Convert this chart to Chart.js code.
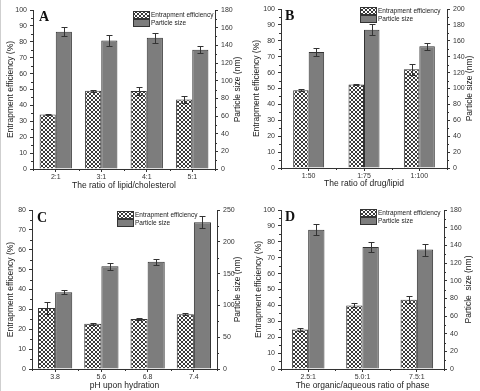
<!DOCTYPE html>
<html>
<head>
<meta charset="utf-8">
<title>Entrapment efficiency / particle size</title>
<style>
  html, body { margin: 0; padding: 0; background: #fff; }
  #wrap { position: relative; width: 480px; height: 391px; overflow: hidden; }
  #wrap canvas { position: absolute; left: 0; top: 0; }
  #edge { position: absolute; left: 0; top: 0; width: 1px; height: 391px; background: #cfcfcf; }
</style>
<script src="https://cdn.jsdelivr.net/npm/chart.js@4.4.0/dist/chart.umd.min.js"></script>
</head>
<body>
<div id="wrap">
  <div id="edge"></div>
  <canvas id="chartA" width="480" height="391"></canvas>
  <canvas id="chartB" width="480" height="391"></canvas>
  <canvas id="chartC" width="480" height="391"></canvas>
  <canvas id="chartD" width="480" height="391"></canvas>
</div>
<script>
// ---- data ----
const seriesNames = ['Entrapment efficiency', 'Particle size'];

// A : lipid/cholesterol
const labelsA = ['2:1', '3:1', '4:1', '5:1'];
const effA = [34.3, 49.2, 49.0, 43.7];
const effErrA = [0.6, 0.8, 2.3, 1.9];
const sizeA = [155.4, 145.6, 148.6, 135.0];
const sizeErrA = [5.0, 6.5, 5.6, 4.1];
const effAxisA = [0, 100, 10];   // min, max, step
const sizeAxisA = [0, 180, 20];

// B : drug/lipid
const labelsB = ['1:50', '1:75', '1:100'];
const effB = [48.9, 52.5, 62.1];
const effErrB = [0.5, 0.3, 3.3];
const sizeB = [146, 174, 153];
const sizeErrB = [5.4, 6.8, 4.6];
const effAxisB = [0, 100, 10];
const sizeAxisB = [0, 200, 20];

// C : pH upon hydration
const labelsC = ['3.8', '5.6', '6.8', '7.4'];
const effC = [30.7, 22.8, 25.2, 27.5];
const effErrC = [2.9, 0.5, 0.5, 0.5];
const sizeC = [120.6, 161.5, 168.8, 230.7];
const sizeErrC = [3.1, 5.7, 4.7, 9.5];
const effAxisC = [0, 80, 10];
const sizeAxisC = [0, 250, 50];

// D : organic/aqueous ratio
const labelsD = ['2.5:1', '5.0:1', '7.5:1'];
const effD = [24.9, 40.0, 43.6];
const effErrD = [1.1, 1.3, 2.1];
const sizeD = [157.7, 138.1, 135.2];
const sizeErrD = [6.5, 5.7, 6.8];
const effAxisD = [0, 100, 10];
const sizeAxisD = [0, 180, 20];

Chart.defaults.font.family = "'Liberation Sans', Arial, sans-serif";
Chart.defaults.color = '#333';

const TITLE_SIZE = 8.5;
const LH = TITLE_SIZE * 1.2;
const INK = '#333';

// checker hatch for the efficiency bars
function makeHatch(ctx) {
  const c = document.createElement('canvas');
  c.width = 4; c.height = 4;
  const g = c.getContext('2d');
  g.fillStyle = '#fff';
  g.fillRect(0, 0, 4, 4);
  g.fillStyle = '#3a3a3a';
  [[0,0],[1,1],[2,2],[3,3],[0,3],[1,2],[2,1],[3,0]].forEach(p => g.fillRect(p[0], p[1], 1, 1));
  return ctx.createPattern(c, 'repeat');
}

// error bars, minor ticks, legend, panel letter, right-hand title
const decoPlugin = {
  id: 'deco',
  afterDatasetsDraw(chart) {
    const ctx = chart.ctx;
    ctx.save();
    ctx.strokeStyle = INK;
    ctx.lineWidth = 1;
    chart.data.datasets.forEach((ds, i) => {
      const meta = chart.getDatasetMeta(i);
      const sc = chart.scales[ds.yAxisID];
      meta.data.forEach((bar, j) => {
        const v = ds.data[j], e = ds.errors[j];
        const y1 = Math.round(sc.getPixelForValue(v + e)) + 0.5;
        const y2 = Math.round(sc.getPixelForValue(v - e)) + 0.5;
        const x = Math.round(bar.x) + 0.5;
        ctx.beginPath();
        ctx.moveTo(x, y1); ctx.lineTo(x, y2);
        ctx.moveTo(x - 3, y1); ctx.lineTo(x + 3, y1);
        ctx.moveTo(x - 3, y2); ctx.lineTo(x + 3, y2);
        ctx.stroke();
      });
    });
    ctx.restore();
  },
  afterDraw(chart, args, o) {
    const ctx = chart.ctx;
    const area = chart.chartArea;
    const ys = chart.scales.y, y1s = chart.scales.y1;
    ctx.save();
    ctx.strokeStyle = INK;
    ctx.lineWidth = 1;
    ctx.beginPath();
    // minor ticks on both value axes
    [[ys, -1], [y1s, 1]].forEach(([sc, dir]) => {
      const x0 = dir < 0 ? area.left : area.right;
      for (let k = 0; k < sc.ticks.length - 1; k++) {
        const mid = (sc.ticks[k].value + sc.ticks[k + 1].value) / 2;
        const py = Math.round(sc.getPixelForValue(mid)) + 0.5;
        ctx.moveTo(x0, py); ctx.lineTo(x0 + dir * 2, py);
      }
    });
    // minor ticks between categories
    const n = chart.data.labels.length;
    for (let k = 0; k <= n; k++) {
      const px = Math.round(area.left + (area.right - area.left) * k / n) + 0.5;
      ctx.moveTo(px, area.bottom); ctx.lineTo(px, area.bottom + 2);
    }
    ctx.stroke();

    // legend
    const lg = o.legend;
    const fills = [o.hatch, '#7d7d7d'];
    ctx.font = "6.5px 'Liberation Sans', Arial, sans-serif";
    ctx.textBaseline = 'middle';
    seriesNames.forEach((name, k) => {
      const by = lg.y + k * 8;
      ctx.fillStyle = fills[k];
      ctx.fillRect(lg.x, by, 16, 7);
      ctx.strokeRect(lg.x + 0.5, by + 0.5, 16, 7);
      ctx.fillStyle = '#222';
      ctx.fillText(name, lg.x + 18, by + 4);
    });

    // panel letter
    ctx.fillStyle = '#111';
    ctx.font = "bold 14px 'Liberation Serif', 'Times New Roman', serif";
    ctx.textBaseline = 'alphabetic';
    ctx.fillText(o.letter, o.letterX, o.letterY);

    // right axis title (reads bottom to top)
    ctx.save();
    ctx.translate(o.y1TitleX, (area.top + area.bottom) / 2);
    ctx.rotate(-Math.PI / 2);
    ctx.font = TITLE_SIZE + "px 'Liberation Sans', Arial, sans-serif";
    ctx.textAlign = 'center';
    ctx.textBaseline = 'middle';
    ctx.fillStyle = '#222';
    ctx.fillText(o.y1Title, 0, 0);
    ctx.restore();
    ctx.restore();
  }
};

function buildChart(p) {
  const canvas = document.getElementById(p.id);
  const ctx = canvas.getContext('2d');
  const hatch = makeHatch(ctx);

  const boxLeft = p.yTitleX - LH / 2 - 2;
  const yWidth = p.area.l - boxLeft;
  const y1Width = Math.min(30, 480 - p.area.r);
  const padRight = 480 - p.area.r - y1Width;
  const boxBottom = Math.min(391, p.xTitleY + LH / 2);
  const xHeight = boxBottom - p.area.b;

  const axisGrid = { drawOnChartArea: false, drawTicks: true, tickLength: 3, color: INK, lineWidth: 1 };
  const axisBorder = { display: true, color: INK, width: 1 };
  const tickFont = { size: 7 };

  return new Chart(canvas, {
    type: 'bar',
    data: {
      labels: p.labels,
      datasets: [{
        label: seriesNames[0],
        data: p.eff,
        errors: p.effErr,
        yAxisID: 'y',
        backgroundColor: hatch,
        borderColor: INK,
        borderWidth: 1,
        categoryPercentage: p.cat,
        barPercentage: 1
      }, {
        label: seriesNames[1],
        data: p.size,
        errors: p.sizeErr,
        yAxisID: 'y1',
        backgroundColor: '#7d7d7d',
        borderColor: INK,
        borderWidth: 1,
        categoryPercentage: p.cat,
        barPercentage: 1
      }]
    },
    options: {
      responsive: false,
      maintainAspectRatio: false,
      devicePixelRatio: 1,
      animation: false,
      events: [],
      layout: { padding: { left: boxLeft, right: padRight, top: p.area.t, bottom: 391 - boxBottom } },
      plugins: {
        legend: { display: false },
        tooltip: { enabled: false },
        deco: {
          hatch: hatch,
          legend: p.legend,
          letter: p.letter,
          letterX: p.letterX,
          letterY: p.letterY,
          y1Title: p.y1Title,
          y1TitleX: p.y1TitleX
        }
      },
      scales: {
        x: {
          grid: Object.assign({}, axisGrid, { offset: false }),
          border: axisBorder,
          ticks: { font: tickFont, padding: 1, autoSkip: false, maxRotation: 0 },
          title: { display: true, text: p.xTitle, font: { size: TITLE_SIZE }, color: '#222',
                   padding: { top: 0, bottom: boxBottom - p.xTitleY - LH / 2 } },
          afterFit: s => { s.height = xHeight; }
        },
        y: {
          position: 'left',
          min: p.effAxis[0], max: p.effAxis[1],
          grid: axisGrid,
          border: axisBorder,
          ticks: { stepSize: p.effAxis[2], font: tickFont, padding: 3 },
          title: { display: true, text: p.yTitle, font: { size: TITLE_SIZE }, color: '#222',
                   padding: { top: 2, bottom: 0 } },
          afterFit: s => { s.width = yWidth; }
        },
        y1: {
          position: 'right',
          min: p.sizeAxis[0], max: p.sizeAxis[1],
          grid: axisGrid,
          border: axisBorder,
          ticks: { stepSize: p.sizeAxis[2], font: tickFont, padding: 3 },
          afterFit: s => { s.width = y1Width; }
        }
      }
    },
    plugins: [decoPlugin]
  });
}

buildChart({
  id: 'chartA', letter: 'A', letterX: 39, letterY: 21,
  labels: labelsA, eff: effA, effErr: effErrA, size: sizeA, sizeErr: sizeErrA,
  effAxis: effAxisA, sizeAxis: sizeAxisA, cat: 0.71,
  xTitle: 'The ratio of lipid/cholesterol',
  yTitle: 'Entrapment efficiency (%)',
  y1Title: 'Particle size (nm)',
  area: { l: 33, r: 215, t: 10, b: 169 },
  yTitleX: 11, y1TitleX: 237.5, xTitleY: 186,
  legend: { x: 133, y: 11 }
});

buildChart({
  id: 'chartB', letter: 'B', letterX: 285, letterY: 20,
  labels: labelsB, eff: effB, effErr: effErrB, size: sizeB, sizeErr: sizeErrB,
  effAxis: effAxisB, sizeAxis: sizeAxisB, cat: 0.56,
  xTitle: 'The ratio of drug/lipid',
  yTitle: 'Entrapment efficiency (%)',
  y1Title: 'Particle size (nm)',
  area: { l: 281, r: 447, t: 9, b: 168 },
  yTitleX: 257, y1TitleX: 470, xTitleY: 184,
  legend: { x: 360, y: 7 }
});

buildChart({
  id: 'chartC', letter: 'C', letterX: 37, letterY: 222,
  labels: labelsC, eff: effC, effErr: effErrC, size: sizeC, sizeErr: sizeErrC,
  effAxis: effAxisC, sizeAxis: sizeAxisC, cat: 0.74,
  xTitle: 'pH upon hydration',
  yTitle: 'Entrapment efficency (%)',
  y1Title: 'Particle size (nm)',
  area: { l: 32, r: 217, t: 210, b: 369 },
  yTitleX: 11, y1TitleX: 237.5, xTitleY: 386,
  legend: { x: 117, y: 211 }
});

buildChart({
  id: 'chartD', letter: 'D', letterX: 285, letterY: 221,
  labels: labelsD, eff: effD, effErr: effErrD, size: sizeD, sizeErr: sizeErrD,
  effAxis: effAxisD, sizeAxis: sizeAxisD, cat: 0.6,
  xTitle: 'The organic/aqueous ratio of phase',
  yTitle: 'Entrapment efficiency (%)',
  y1Title: 'Particle  size (nm)',
  area: { l: 281, r: 444, t: 210, b: 369 },
  yTitleX: 259, y1TitleX: 469, xTitleY: 386,
  legend: { x: 360, y: 209 }
});
</script>
</body>
</html>
